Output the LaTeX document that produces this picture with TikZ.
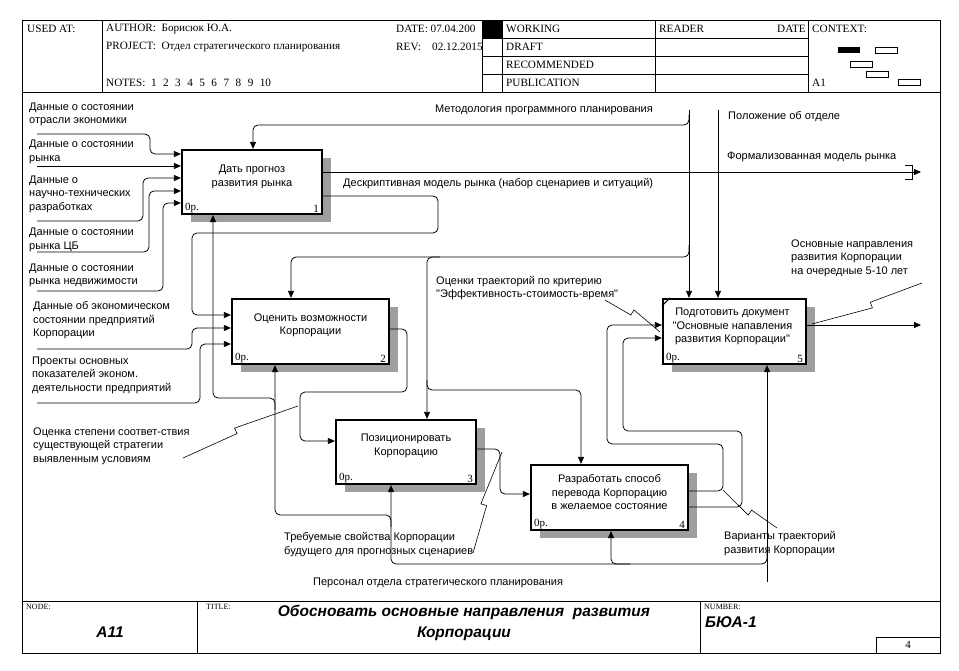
\documentclass[tikz,border=0pt]{standalone}
\usepackage{fontspec}
\setmainfont{Liberation Serif}
\newfontfamily\sansf{Liberation Sans}
\usetikzlibrary{arrows.meta,calc,shadows}
\newcommand\squig[2]{\draw[leader] (#1) -- ($(#1)!0.47!(#2)$) -- ($(#1)!0.47!(#2)!6pt!90:(#2)$) -- (#2);}
\newcommand\dg{\hspace{6.5pt}}
\begin{document}
\begin{tikzpicture}[x=1pt,y=-1pt,
  frame/.style={line width=0.8pt},
  hdr/.style={anchor=west,inner sep=0pt,font=\fontsize{11.2}{12}\selectfont},
  small/.style={anchor=west,inner sep=0pt,font=\fontsize{8}{9}\selectfont},
  actbox/.style={draw,line width=2.2pt,fill=white,inner sep=0pt,
     drop shadow={shadow xshift=9pt,shadow yshift=-8pt,fill=black!38,opacity=1}},
  btxt/.style={align=center,font=\sansf\fontsize{11}{13.5}\selectfont,inner sep=0pt},
  lbl/.style={align=left,anchor=west,font=\sansf\fontsize{11}{13.5}\selectfont,inner sep=0pt},
  cornertxt/.style={font=\fontsize{11}{12}\selectfont,inner sep=0pt},
  conn/.style={line width=0.8pt,rounded corners=5pt},
  arr/.style={conn,-{Triangle[length=7pt,width=6pt]}},
  leader/.style={line width=0.6pt},
  bigit/.style={font=\sansf\bfseries\itshape\fontsize{15.5}{21}\selectfont,inner sep=0pt},
]
\useasboundingbox[fill=white] (0,0) rectangle (959,671);
% frame
\draw[frame] (22,20) rectangle (940,653);
\draw[frame] (22,92) -- (940,92);
\draw[frame] (22,601) -- (940,601);
\foreach \x in {102,482,502,655,808} \draw[frame] (\x,20) -- (\x,92);
\foreach \y in {38,56,74} \draw[frame] (482,\y) -- (808,\y);
% header text
\node[hdr] (h1) at (27,29) {USED AT:};
\node[hdr] (h2) at (106,29) {AUTHOR:\ \ Борисюк Ю.А.};
\node[hdr] (h3) at (106,46.5) {PROJECT:\ \ Отдел стратегического планирования};
\node[hdr] (h4) at (106,83) {NOTES:\ \ 1\dg 2\dg 3\dg 4\dg 5\dg 6\dg 7\dg 8\dg 9\dg 10};
\node[hdr] (h5) at (396,29) {DATE: 07.04.200};
\node[hdr] (h6) at (396,46.5) {REV:};
\node[hdr] (h6b) at (432,46.5) {02.12.2015};
\fill (482,20) rectangle (502,38);
\node[hdr] (h7) at (506,29) {WORKING};
\node[hdr] (h8) at (506,47) {DRAFT};
\node[hdr] (h9) at (506,65) {RECOMMENDED};
\node[hdr] (h10) at (506,83) {PUBLICATION};
\node[hdr] (h11) at (659,29) {READER};
\node[hdr,anchor=east] (h12) at (806,29) {DATE};
\node[hdr] (h13) at (812,29) {CONTEXT:};
\node[hdr] (h14) at (812,83) {A1};
\fill (838,47) rectangle (860,53);
\draw[line width=0.7pt] (875,47) rectangle (897,53);
\draw[line width=0.7pt] (850,61) rectangle (872,67);
\draw[line width=0.7pt] (866,71) rectangle (888,77);
\draw[line width=0.7pt] (898,79) rectangle (920,85);
% footer
\draw[frame] (197,601) -- (197,653);
\draw[frame] (700,601) -- (700,653);
\draw[frame] (876,653) -- (876,637) -- (940,637);
\node[small] (f1) at (26,607) {NODE:};
\node[small] (f2) at (206,607) {TITLE:};
\node[small] (f3) at (704,607) {NUMBER:};
\node[bigit] (f4) at (110,632) {A11};
\node[bigit,align=center] (f5) at (464,622.5) {Обосновать основные направления\ \ развития\\Корпорации};
\node[bigit,anchor=west] (f6) at (705,622) {БЮА-1};
\node[cornertxt] (f7) at (908,645) {4};
% boxes
\node[actbox,minimum width=140pt,minimum height=64pt] (b1) at (252,182) {};
\node[actbox,minimum width=157pt,minimum height=65pt] (b2) at (310.5,331.5) {};
\node[actbox,minimum width=140pt,minimum height=64pt] (b3) at (406,452) {};
\node[actbox,minimum width=157pt,minimum height=65pt] (b4) at (609.5,497.5) {};
\node[actbox,minimum width=143pt,minimum height=65pt] (b5) at (734.5,331.5) {};
\draw[line width=1pt] (b5.north west) ++(0,8) -- ++(8,-8);
\node[btxt] (t1) at ($(b1.center)+(0,-5)$) {Дать прогноз\\развития рынка};
\node[btxt] (t2) at ($(b2.center)+(0,-6)$) {Оценить возможности\\Корпорации};
\node[btxt] (t3) at ($(b3.center)+(0,-6)$) {Позиционировать\\Корпорацию};
\node[btxt] (t4) at ($(b4.center)+(0,-5)$) {Разработать способ\\перевода Корпорацию\\в желаемое состояние};
\node[btxt] (t5) at ($(b5.center)+(-2,-5)$) {Подготовить документ\\"Основные напавления\\развития Корпорации"};
\foreach \b/\n in {b1/1,b2/2,b3/3,b4/4,b5/5}{
  \node[cornertxt,anchor=south west] (\b a) at ($(\b.south west)+(4,-2)$) {0р.};
  \node[cornertxt,anchor=south east] (\b n) at ($(\b.south east)+(-4,-2)$) {\n};
}
% labels
\node[lbl] (l1) at (29,114.5) {Данные о состоянии\\отрасли экономики};
\node[lbl] (l2) at (29,152) {Данные о состоянии\\рынка};
\node[lbl] (l3) at (29,194) {Данные о\\научно-технических\\разработках};
\node[lbl] (l4) at (29,240) {Данные о состоянии\\рынка ЦБ};
\node[lbl] (l5) at (29,275.5) {Данные о состоянии\\рынка недвижимости};
\node[lbl] (l6) at (33,320.5) {Данные об экономическом\\состоянии предприятий\\Корпорации};
\node[lbl] (l7) at (32,375) {Проекты основных\\показателей эконом.\\деятельности предприятий};
\node[lbl] (l8) at (33,446) {Оценка степени соответ-ствия\\существующей стратегии\\выявленным условиям};
\node[lbl] (l9) at (435,110) {Методология программного планирования};
\node[lbl] (l10) at (728,117) {Положение об отделе};
\node[lbl] (l11) at (727,157) {Формализованная модель рынка};
\node[lbl] (l12) at (343,184) {Дескриптивная модель рынка (набор сценариев и ситуаций)};
\node[lbl] (l13) at (436,288) {Оценки траекторий по критерию\\"Эффективность-стоимость-время"};
\node[lbl] (l14) at (791,258) {Основные направления\\развития Корпорации\\на очередные 5-10 лет};
\node[lbl] (l15) at (284,544.5) {Требуемые свойства Корпорации\\будущего для прогнозных сценариев};
\node[lbl] (l16) at (724,543.5) {Варианты траекторий\\развития Корпорации};
\node[lbl] (l17) at (313,583) {Персонал отдела стратегического планирования};
% inputs of b1
\draw[arr] (37,134) -- (150,134) -- (150,154) -- (b1.west |- 0,154);
\draw[arr] (37,166) -- (b1.west |- 0,166);
\draw[arr] (37,221) -- (143,221) -- (143,178) -- (b1.west |- 0,178);
\draw[arr] (37,252) -- (149,252) -- (149,191) -- (b1.west |- 0,191);
\draw[arr] (37,291) -- (163,291) -- (163,203) -- (b1.west |- 0,203);
% outputs of b1
\draw[arr] (b1.east |- 0,172) -- (921,172);
\draw[frame] (905,165) -- (912,165) -- (912,179) -- (905,179);
\draw[arr] (b1.east |- 0,196) -- (438,196) -- (438,233) -- (192,233) -- (192,315) -- (b2.west |- 0,315);
% inputs of b2
\draw[arr] (37,349) -- (192,349) -- (192,328) -- (b2.west |- 0,328);
\draw[arr] (37,403) -- (200,403) -- (200,344) -- (b2.west |- 0,344);
% b2 -> b3, b3 -> b4
\draw[arr] (b2.east |- 0,329) -- (407,329) -- (407,392) -- (300,392) -- (300,441) -- (b3.west |- 0,441);
\draw[arr] (b3.east |- 0,449) -- (500,449) -- (500,494) -- (b4.west |- 0,494);
% b4 -> b5
\draw[arr] (b4.east |- 0,491) -- (723,491) -- (723,444) -- (607,444) -- (607,325) -- (b5.west |- 0,325);
\draw[arr] (b4.east |- 0,507) -- (742,507) -- (742,431) -- (623,431) -- (623,338) -- (b5.west |- 0,338);
% b5 output
\draw[arr] (b5.east |- 0,325) -- (921,325);
% controls
\draw[arr] (689,110) -- (689,0 |- b5.north);
\draw[arr] (689,115) -- (689,125) -- (253,125) -- (253,0 |- b1.north);
\draw[arr] (689,245) -- (689,257) -- (427,257) -- (427,0 |- b3.north);
\draw[arr] (440,257) -- (291,257) -- (291,0 |- b2.north);
\draw[arr] (427,380) -- (427,390) -- (581,390) -- (581,0 |- b4.north);
\draw[arr] (718,110) -- (718,0 |- b5.north);
% mechanisms
\draw[arr] (767,582) -- (767,0 |- b5.south);
\draw[arr] (767,550) -- (767,564) -- (391,564) -- (391,0 |- b3.south);
\draw[arr] (630,564) -- (611,564) -- (611,0 |- b4.south);
\draw[arr] (391,527) -- (391,515) -- (275,515) -- (275,0 |- b2.south);
\draw[arr] (275,410) -- (275,398) -- (213,398) -- (213,0 |- b1.south);
% squiggles
\squig{183,458}{298,406}
\squig{473,553}{502,452}
\squig{777,528}{723,490}
\squig{605,300}{660,332}
\squig{922,283}{812,324}
\end{tikzpicture}
\end{document}
